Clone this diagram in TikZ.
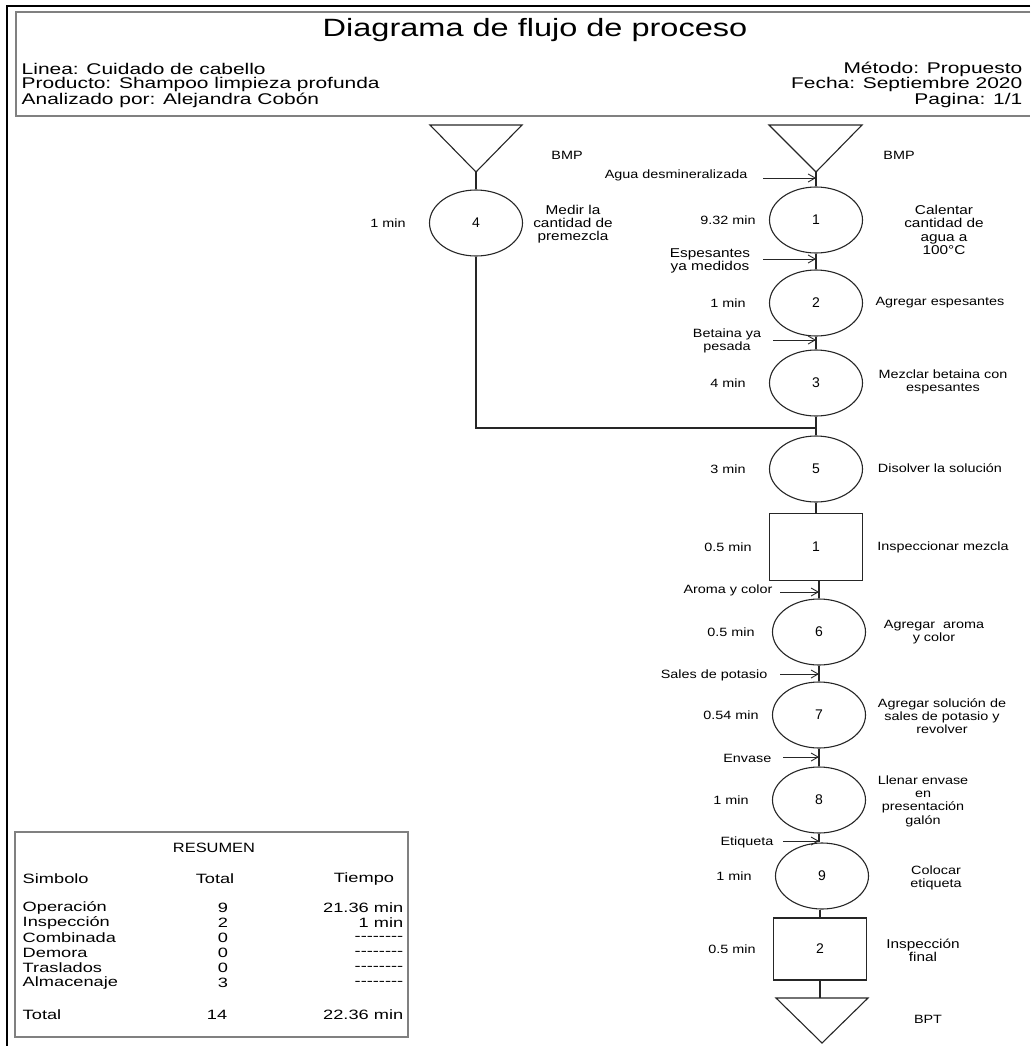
\documentclass[tikz,border=0pt]{standalone}
\usepackage{fontspec}
\setmainfont{Liberation Sans}
\usepackage{tikz}
\usetikzlibrary{shapes.geometric}
\usetikzlibrary{arrows.meta,calc}
\tikzset{
  op/.style={draw, ellipse, minimum width=93pt, minimum height=66pt, inner sep=0pt, font=\fontsize{14}{16}\selectfont},
  insp/.style={draw, rectangle, minimum width=93pt, minimum height=66pt, inner sep=0pt, font=\fontsize{14}{16}\selectfont},
  lbl/.style={font=\fontsize{12}{13.3}\selectfont, xscale=1.2, align=center, inner sep=0pt},
  lblbig/.style={font=\fontsize{12.8}{13.3}\selectfont, xscale=1.2, align=center, inner sep=0pt},
  hdr/.style={font=\fontsize{15.5}{16}\selectfont, xscale=1.35, inner sep=0pt},
  tbl/.style={font=\fontsize{13.5}{15}\selectfont, xscale=1.35, inner sep=0pt},
  feed/.style={-{Straight Barb[length=7pt,width=8pt]}, line width=0.9pt}
}
\newcommand{\guiones}{\mbox{-}\mbox{-}\mbox{-}\mbox{-}\mbox{-}\mbox{-}\mbox{-}\mbox{-}}

\begin{document}
\begin{tikzpicture}[x=1pt, y=1pt, line width=1.1pt, draw=black!85]
\useasboundingbox (0,0) rectangle (1030,-1046);
\draw[black, line width=2.5pt] (1030,-6) -- (7,-6) -- (7,-1046);
\draw[gray, line width=1.2pt] (1030,-12) -- (16,-12) -- (16,-116) -- (1030,-116);
\node[font=\fontsize{25}{28}\selectfont, xscale=1.3] (titulo) at (535,-30) {Diagrama de flujo de proceso};
\node[hdr, anchor=west] (linea) at (21,-69) {Linea: Cuidado de cabello};
\node[hdr, anchor=west] (producto) at (21,-84.5) {Producto: Shampoo limpieza profunda};
\node[hdr, anchor=west] (analista) at (21,-100) {Analizado por: Alejandra Cobón};
\node[hdr, anchor=east] (metodo) at (1023,-69) {Método: Propuesto};
\node[hdr, anchor=east] (fecha) at (1023,-84.5) {Fecha: Septiembre 2020};
\node[hdr, anchor=east] (pagina) at (1023,-100) {Pagina: 1/1};

\draw (430,-125) -- (522,-125) -- (476,-172) coordinate (bmpA) -- cycle;
\draw (769,-125) -- (862,-125) -- (816,-172) coordinate (bmpB) -- cycle;
\draw (776,-998) -- (868,-998) -- (822,-1043) -- cycle;
\coordinate (bpt) at (822,-998);
\node[lbl] (bmpAt) at (567,-155) {BMP};
\node[lbl] (bmpBt) at (899,-155) {BMP};
\node[lbl] (bptt) at (928,-1019) {BPT};

\node[op] (op4) at (476,-223) {4};
\node[op] (op1) at (816,-220) {1};
\node[op] (op2) at (816,-303) {2};
\node[op] (op3) at (816,-383) {3};
\node[op] (op5) at (816,-469) {5};
\node[insp, minimum height=67pt] (in1) at (816,-547) {1};
\node[op] (op6) at (819,-632) {6};
\node[op] (op7) at (819,-715) {7};
\node[op] (op8) at (819,-800) {8};
\node[op] (op9) at (822,-876) {9};
\node[insp, minimum height=62pt] (in2) at (820,-949) {2};

\coordinate (union) at (816,-428);
\draw (bmpA) -- (op4.north);
\draw (op4.south) |- (union);
\draw (bmpB) -- (op1.north);
\draw (op1.south) -- (op2.north);
\draw (op2.south) -- (op3.north);
\draw (op3.south) -- (op5.north);
\draw (op5.south) -- (in1.north);
\draw (in1.south -| op6) -- (op6.north);
\draw (op6.south) -- (op7.north);
\draw (op7.south) -- (op8.north);
\draw (op8.south) -- (op8.south |- op9.north);
\draw (op9.south -| in2) -- (in2.north);
\draw (in2.south) -- (in2.south |- bpt);

\coordinate (agua) at (763,-178);
\coordinate (espesa) at (763,-259);
\coordinate (betaina) at (773,-340);
\coordinate (aroma) at (780,-592);
\coordinate (sales) at (780,-674);
\coordinate (envase) at (783,-757);
\coordinate (etiqueta) at (783,-841);
\draw[feed] (agua) -- (agua -| op1);
\draw[feed] (espesa) -- (espesa -| op1);
\draw[feed] (betaina) -- (betaina -| op3);
\draw[feed] (aroma) -- (aroma -| op6);
\draw[feed] (sales) -- (sales -| op7);
\draw[feed] (envase) -- (envase -| op8);
\draw[feed] (etiqueta) -- (etiqueta -| op8);
\node[lbl, anchor=east] (aguat) at (748,-175) {Agua desmineralizada};
\node[lblbig] (espesat) at (710,-261) {Espesantes\\ya medidos};
\node[lbl] (betainat) at (727,-341) {Betaina ya\\pesada};
\node[lbl, anchor=east] (aromat) at (773,-590) {Aroma y color};
\node[lbl, anchor=east] (salest) at (768,-675) {Sales de potasio};
\node[lbl, anchor=east] (envaset) at (772,-758) {Envase};
\node[lbl, anchor=east] (etiquetat) at (774,-842) {Etiqueta};

\foreach \n/\t in {op4/1 min, op1/9.32 min, op2/1 min, op3/4 min, op5/3 min, in1/0.5 min, op6/0.5 min, op7/0.54 min, op8/1 min, op9/1 min, in2/0.5 min}
  \node[lbl] (t-\n) at ([xshift=-88pt]\n) {\t};

\node[lblbig] (d4) at (573,-224) {Medir la\\cantidad de\\premezcla};
\node[lblbig] (d1) at (944,-230) {Calentar\\cantidad de\\agua a\\100°C};
\node[lbl] (d2) at (940,-303) {Agregar espesantes};
\node[lbl] (d3) at (943,-382) {Mezclar betaina con\\espesantes};
\node[lbl] (d5) at (940,-468) {Disolver la solución};
\node[lbl] (di1) at (943,-547) {Inspeccionar mezcla};
\node[lbl] (d6) at (934,-632) {Agregar\ \ aroma\\y color};
\node[lbl] (d7) at (942,-716) {Agregar solución de\\sales de potasio y\\revolver};
\node[lbl] (d8) at (923,-801) {Llenar envase\\en\\presentación\\galón};
\node[lbl] (d9) at (936,-878) {Colocar\\etiqueta};
\node[lblbig] (di2) at (923,-950) {Inspección\\final};

\draw[gray, line width=1.5pt] (15,-832) rectangle (408,-1037);
\node[tbl, xscale=0.9] (resumen) at (214,-848) {RESUMEN};
\node[tbl, anchor=west] (simbolo) at (22,-879) {Simbolo};
\node[tbl] (total) at (215,-879) {Total};
\node[tbl] (tiempo) at (364,-879) {Tiempo};
\foreach \s/\c/\t [count=\i] in {Operación/9/21.36 min, Inspección/2/1 min, Combinada/0/\guiones, Demora/0/\guiones, Traslados/0/\guiones, Almacenaje/3/\guiones} {
  \node[tbl, anchor=west] (s\i) at (22,-893-15*\i) {\s};
  \node[tbl] (c\i) at (223,-893-15*\i) {\c};
  \node[tbl, anchor=east] (m\i) at (404,-893-15*\i) {\t};
}
\node[tbl, anchor=west] (totl) at (22,-1015) {Total};
\node[tbl] (totn) at (217,-1015) {14};
\node[tbl, anchor=east] (tott) at (404,-1015) {22.36 min};
\end{tikzpicture}
\end{document}
